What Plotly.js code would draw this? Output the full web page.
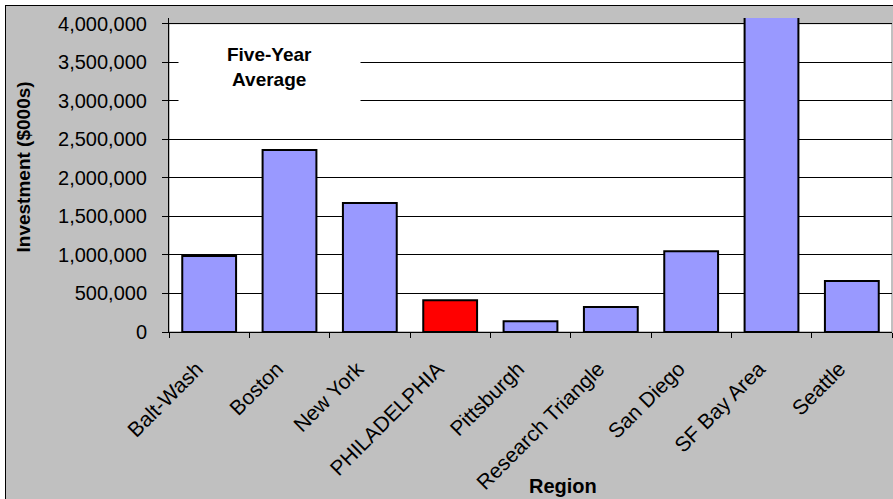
<!DOCTYPE html>
<html>
<head>
<meta charset="utf-8">
<script src="https://cdn.plot.ly/plotly-3.0.1.min.js"></script>
<style>
  html, body { margin: 0; padding: 0; background: #ffffff; width: 893px; height: 499px; overflow: hidden; }
  #frame { position: absolute; left: 5px; top: 5px; width: 888px; height: 494px;
           border-left: 1px solid #000; border-top: 1px solid #000; background: #C0C0C0; }
  #chart { width: 887px; height: 493px; }
</style>
</head>
<body>
<div id="frame"><div id="chart"></div></div>
<script>
// Venture investment by region, five-year average ($000s)
const regions = ["Balt-Wash", "Boston", "New York", "PHILADELPHIA", "Pittsburgh",
                 "Research Triangle", "San Diego", "SF Bay Area", "Seattle"];
const investment = [985000, 2360000, 1675000, 412000, 139000, 325000, 1048000, 4100000, 662000];
const barColors = ["#9999FF", "#9999FF", "#9999FF", "#FF0000", "#9999FF",
                   "#9999FF", "#9999FF", "#9999FF", "#9999FF"];
const yTickVals = [0, 500000, 1000000, 1500000, 2000000, 2500000, 3000000, 3500000, 4000000];

const font = "Liberation Sans, Arial, sans-serif";

// slanted category labels end a little short of the category centre
const regionLabels = regions.map(r => r + "\u00a0\u00a0\u00a0");

const trace = {
  type: "bar",
  x: regions,
  y: investment,
  marker: { color: barColors, line: { color: "#000000", width: 2 } },
  hoverinfo: "x+y"
};

const layout = {
  width: 887,
  height: 493,
  margin: { l: 163, r: 1, t: 12, b: 167 },
  paper_bgcolor: "#C0C0C0",
  plot_bgcolor: "#C0C0C0",
  bargap: 0.33,
  showlegend: false,
  font: { family: font, size: 20, color: "#000000" },
  xaxis: {
    type: "category",
    range: [-0.5, 8.5],
    tickmode: "array",
    tickvals: regions,
    ticktext: regionLabels,
    tickangle: -45,
    tickson: "boundaries",
    ticks: "outside",
    ticklen: 5,
    tickcolor: "#000000",
    ticklabelstandoff: 3,
    showline: true,
    linecolor: "#000000",
    linewidth: 1,
    showgrid: false,
    tickfont: { family: font, size: 21, color: "#000000" },
    fixedrange: true
  },
  yaxis: {
    range: [0, 4074000],
    tickvals: yTickVals,
    tickformat: ",",
    ticks: "outside",
    ticklen: 6,
    tickcolor: "#000000",
    ticklabelstandoff: 11,
    showline: true,
    linecolor: "#000000",
    linewidth: 1,
    showgrid: true,
    gridcolor: "#000000",
    gridwidth: 1,
    zeroline: false,
    tickfont: { family: font, size: 20, color: "#000000" },
    fixedrange: true
  },
  shapes: [{
    type: "rect", layer: "below",
    xref: "x", yref: "y",
    x0: -0.5, x1: 8.5, y0: 0, y1: 4000000,
    fillcolor: "#FFFFFF",
    line: { color: "#808080", width: 1 }
  }],
  annotations: [
    {
      xref: "x", yref: "y", x: 0.751, y: 3440000,
      xanchor: "center", yanchor: "middle",
      text: "<b>Five-Year<br>Average</b>",
      showarrow: false,
      bgcolor: "#FFFFFF",
      width: 181, height: 78,
      borderpad: 0,
      font: { family: font, size: 19, color: "#000000" }
    },
    {
      xref: "paper", yref: "paper", x: 0.545, y: -0.49,
      xanchor: "center", yanchor: "middle",
      text: "<b>Region</b>",
      showarrow: false,
      font: { family: font, size: 20, color: "#000000" }
    },
    {
      xref: "paper", yref: "paper", x: -0.2006, y: 0.527,
      xanchor: "center", yanchor: "middle",
      text: "<b>Investment ($000s)</b>",
      textangle: -90,
      showarrow: false,
      font: { family: font, size: 19, color: "#000000" }
    }
  ]
};

Plotly.newPlot("chart", [trace], layout, { displayModeBar: false, staticPlot: true });
</script>
</body>
</html>
